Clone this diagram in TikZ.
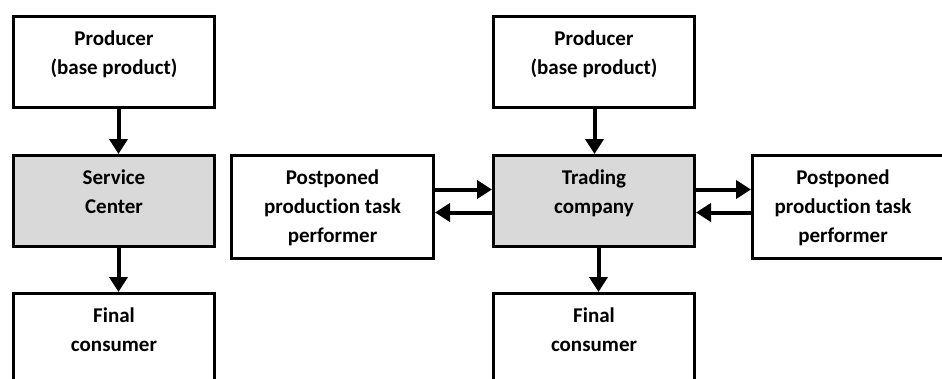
\documentclass[tikz,border=0pt]{standalone}
\usepackage{fontspec}
\setmainfont{Carlito}[Ligatures=NoCommon]
\usetikzlibrary{arrows.meta,calc}
\definecolor{boxgray}{HTML}{D9D9D9}
\begin{document}
\begin{tikzpicture}[x=1pt,y=-1pt,
  box/.style={draw=black,line width=3pt,rectangle,inner sep=0pt,anchor=north west},
  lbl/.style={anchor=north,align=center,inner sep=0pt,font=\fontsize{21}{29}\selectfont\bfseries},
  flow/.style={line width=4pt,-{Triangle[length=15pt,width=18pt]}}]
\useasboundingbox (0,0) rectangle (942,378);
\clip (0,0) rectangle (942,378);
% left column
\node[box,minimum width=201pt,minimum height=91pt] (p1) at (12,15) {};
\node[box,fill=boxgray,minimum width=201pt,minimum height=91pt] (sc) at (12,154) {};
\node[box,minimum width=201pt,minimum height=120pt] (f1) at (12,292) {};
\node[box,minimum width=202pt,minimum height=103pt] (pp1) at (230,154) {};
% right column
\node[box,minimum width=201pt,minimum height=91pt] (p2) at (492,15) {};
\node[box,fill=boxgray,minimum width=201pt,minimum height=91pt] (tc) at (492,154) {};
\node[box,minimum width=201pt,minimum height=120pt] (f2) at (492,292) {};
\node[box,minimum width=220pt,minimum height=103pt] (pp2) at (751,154) {};
% labels
\node[lbl] (p1t) at ($(p1.north)+(0,16)$) {Producer\\(base product)};
\node[lbl] (sct) at ($(sc.north)+(0,16)$) {Service\\Center};
\node[lbl] (f1t) at ($(f1.north)+(0,16)$) {Final\\consumer};
\node[lbl] (pp1t) at ($(pp1.north)+(0,16)$) {Postponed\\production task\\performer};
\node[lbl] (p2t) at ($(p2.north)+(0,16)$) {Producer\\(base product)};
\node[lbl] (tct) at ($(tc.north)+(0,16)$) {Trading\\company};
\node[lbl] (f2t) at ($(f2.north)+(0,16)$) {Final\\consumer};
\node[lbl] (pp2t) at (843,170) {Postponed\\production task\\performer};
% anchor points
\coordinate (tcwu) at ($(tc.west)+(0,-11.5)$);
\coordinate (tcwd) at ($(tc.west)+(0,11.5)$);
\coordinate (tceu) at ($(tc.east)+(0,-11.5)$);
\coordinate (tced) at ($(tc.east)+(0,11.5)$);
% connectors
\draw[flow] ([xshift=4.5pt]p1.south) -- ([xshift=4.5pt]sc.north);
\draw[flow] ([xshift=4.5pt]sc.south) -- ([xshift=4.5pt]f1.north);
\draw[flow] ([xshift=0.5pt]p2.south) -- ([xshift=0.5pt]tc.north);
\draw[flow] ([xshift=4.5pt]tc.south) -- ([xshift=4.5pt]f2.north);
\draw[flow] (pp1.east |- tcwu) -- (tcwu);
\draw[flow] (tcwd) -- (pp1.east |- tcwd);
\draw[flow] (tceu) -- (pp2.west |- tceu);
\draw[flow] (pp2.west |- tced) -- (tced);
\end{tikzpicture}
\end{document}
